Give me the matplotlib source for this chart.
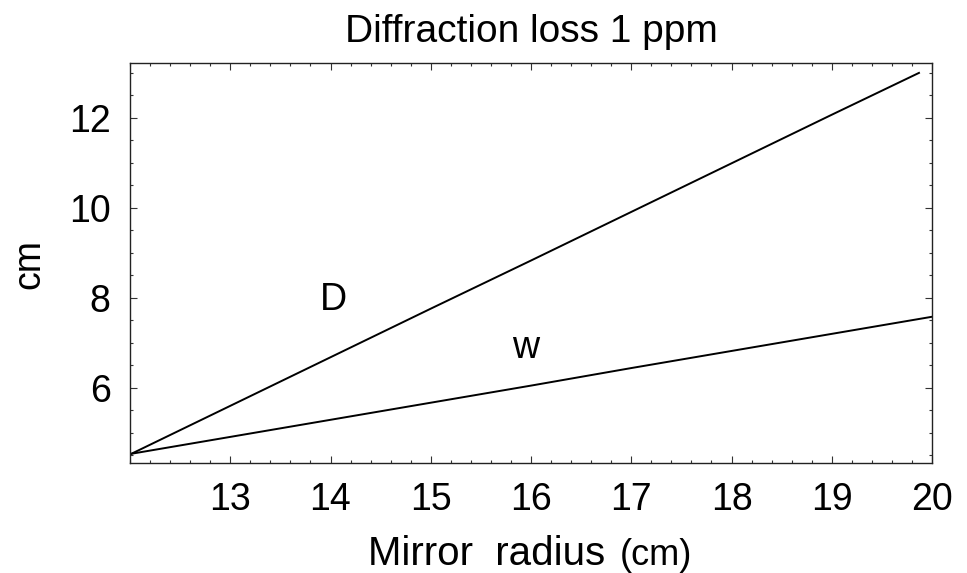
import matplotlib
matplotlib.use("Agg")
import matplotlib.pyplot as plt
from matplotlib.ticker import MultipleLocator

plt.rcParams["font.family"] = ["Liberation Sans", "DejaVu Sans"]

# Mirror radius (cm)
radius_d = [12, 13, 14, 15, 16, 17, 18, 19, 19.87]
d_values = [4.52, 5.60, 6.68, 7.76, 8.83, 9.91, 10.99, 12.07, 13.0]

radius_w = [12, 13, 14, 15, 16, 17, 18, 19, 20]
w_values = [4.53, 4.91, 5.29, 5.67, 6.05, 6.44, 6.82, 7.20, 7.58]

x_ticks = [13, 14, 15, 16, 17, 18, 19, 20]
y_ticks = [6, 8, 10, 12]

W, H = 967, 573
fig = plt.figure(figsize=(W / 100, H / 100), dpi=100)
ax = fig.add_axes([130 / W, 1 - 463 / H, 802 / W, 400 / H])

ax.plot(radius_d, d_values, color="black", lw=1.4)
ax.plot(radius_w, w_values, color="black", lw=1.4)

ax.set_xlim(12, 20)
ax.set_ylim(4.33, 13.22)
ax.set_xticks(x_ticks)
ax.set_yticks(y_ticks)
ax.xaxis.set_minor_locator(MultipleLocator(0.2))
ax.yaxis.set_minor_locator(MultipleLocator(0.5))
ax.tick_params(which="both", direction="in", top=True, right=True,
               color="#333333", width=0.8)
ax.tick_params(which="major", length=5, labelsize=27)
ax.tick_params(which="minor", length=2.5)
ax.tick_params(axis="x", which="major", pad=14)
ax.tick_params(axis="y", which="major", pad=14)
for sp in ax.spines.values():
    sp.set_color("#222222")
    sp.set_linewidth(1.0)

ax.text(14.03, 7.96, "D", fontsize=27, ha="center", va="center")
ax.text(15.95, 6.89, "w", fontsize=27, ha="center", va="center")

ax.set_title("Diffraction loss 1 ppm", fontsize=28, pad=15)

# axis labels
fig.text(368 / W, 1 - 565 / H, "Mirror  radius", fontsize=29,
         ha="left", va="baseline")
fig.text(620 / W, 1 - 565 / H, "(cm)", fontsize=26, ha="left", va="baseline")
fig.text(29 / W, 1 - 264 / H, "cm", fontsize=27, rotation=90,
         ha="center", va="center")

fig.savefig("out.png", dpi=100)
